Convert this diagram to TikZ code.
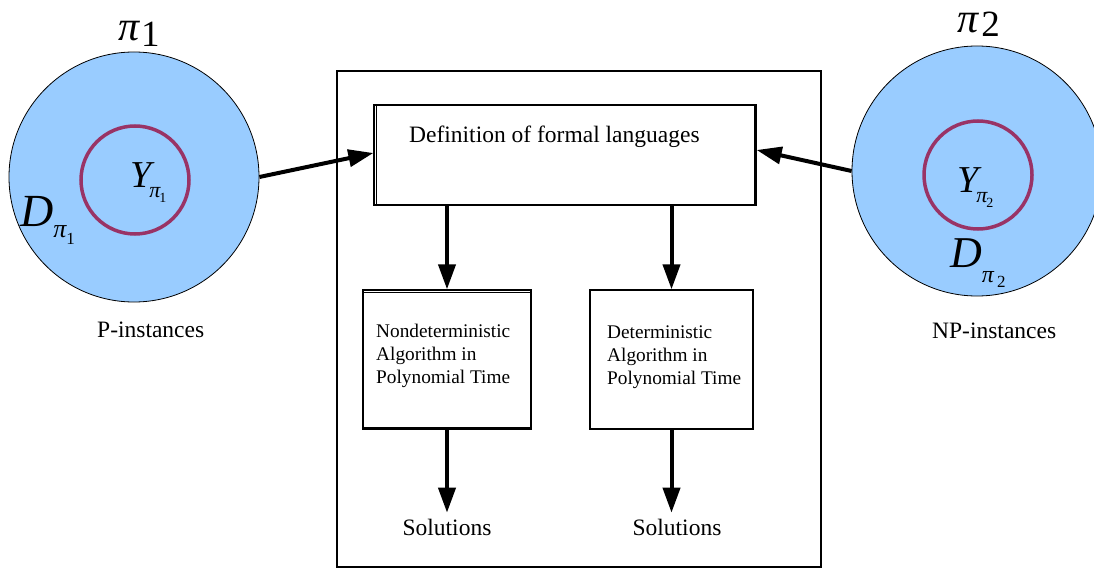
\documentclass[tikz,border=0pt]{standalone}
\usepackage{fontspec}
\setmainfont{Liberation Serif}
\usetikzlibrary{arrows.meta}
\definecolor{fillblue}{RGB}{153,204,255}
\definecolor{ringpurple}{RGB}{153,51,102}
\begin{document}
\begin{tikzpicture}[x=1pt,y=-1pt,
  setcircle/.style={circle,draw=black,line width=0.8pt,fill=fillblue,minimum size=250pt,inner sep=0pt},
  ring/.style={circle,draw=ringpurple,line width=3.5pt,minimum size=108pt,inner sep=0pt},
  box/.style={draw,line width=1.3pt,inner sep=0pt},
  thinline/.style={line width=0.7pt},
  bigarrow/.style={line width=4pt,-{Triangle[length=25pt,width=17pt]}},
  txt/.style={font=\fontsize{23.5}{28}\selectfont,inner sep=0pt},
  small/.style={font=\fontsize{19.3}{23}\selectfont,inner sep=0pt,align=left}]
\useasboundingbox (0,0) rectangle (1094,569);
\clip (0,0) rectangle (1094,569);
\fill[white] (0,0) rectangle (1094,569);

% outer frame
\node[box,line width=1.5pt,minimum width=484pt,minimum height=496pt] (outer) at (579,319) {};

% left set
\node[setcircle] (lc) at (134,177) {};
\node[ring] (lring) at (135,180) {};
\node[anchor=base west,inner sep=0pt] (pi1) at (118,41)
  {{\fontsize{42}{42}\selectfont\itshape π}\kern2pt\raisebox{-6pt}{\fontsize{37}{37}\selectfont 1}};
\node[anchor=base west,inner sep=0pt] (y1) at (130,188)
  {{\fontsize{38}{38}\selectfont\itshape Y}\kern-2pt\raisebox{-10pt}{\fontsize{22}{22}\selectfont\itshape π\kern-1pt\raisebox{-5pt}{\upshape\fontsize{14}{14}\selectfont 1}}};
\node[anchor=base west,inner sep=0pt] (d1) at (20,227)
  {{\fontsize{46}{46}\selectfont\itshape D}\raisebox{-11pt}{\fontsize{26}{26}\selectfont\itshape π\raisebox{-7pt}{\upshape\fontsize{17}{17}\selectfont 1}}};
\node[txt,anchor=base west] (pinst) at (97,337) {P-instances};

% right set
\node[setcircle] (rc) at (977,171) {};
\node[ring] (rring) at (978,175) {};
\node[anchor=base west,inner sep=0pt] (pi2) at (957,33)
  {{\fontsize{42}{42}\selectfont\itshape π}\kern3pt\raisebox{-4pt}{\fontsize{37}{37}\selectfont 2}};
\node[anchor=base west,inner sep=0pt] (y2) at (957,193)
  {{\fontsize{38}{38}\selectfont\itshape Y}\kern-2pt\raisebox{-10pt}{\fontsize{22}{22}\selectfont\itshape π\kern-1pt\raisebox{-5pt}{\upshape\fontsize{14}{14}\selectfont 2}}};
\node[anchor=base west,inner sep=0pt] (d2) at (950,268)
  {{\fontsize{44}{44}\selectfont\itshape D}\raisebox{-14pt}{\fontsize{24}{24}\selectfont\itshape π\kern3pt\raisebox{-6pt}{\upshape\fontsize{17}{17}\selectfont 2}}};
\node[txt,anchor=base west] (npinst) at (932,338) {NP-instances};

% top box
\node[box,minimum width=382pt,minimum height=100pt] (defbox) at (565,155) {};
\draw[thinline] ([xshift=2.5pt]defbox.north west) -- ([xshift=2.5pt]defbox.south west);
\draw[thinline] ([xshift=-2.5pt]defbox.north east) -- ([xshift=-2.5pt]defbox.south east);
\node[txt,anchor=base west] (deftext) at (409,143) {Definition of formal languages};

% lower boxes
\node[box,minimum width=168pt,minimum height=139pt] (ndbox) at (447,359.5) {};
\draw[thinline] ([yshift=-2.5pt]ndbox.north west) -- ([yshift=-2.5pt]ndbox.north east);
\draw[thinline] ([yshift=2.5pt]ndbox.south west) -- ([yshift=2.5pt]ndbox.south east);
\node[small,anchor=base west] (ndtext) at (376,383) {Nondeterministic\\Algorithm in\\Polynomial Time};

\node[box,minimum width=163pt,minimum height=139pt] (dbox) at (671.5,359.5) {};
\node[small,anchor=base west] (dtext) at (607,384) {Deterministic\\Algorithm in\\Polynomial Time};

% solutions
\node[txt,anchor=base,outer sep=6pt] (sol1) at (447,535) {Solutions};
\node[txt,anchor=base,outer sep=6pt] (sol2) at (677,535) {Solutions};

% arrows
\draw[bigarrow] (lc.east) -- ([yshift=2pt]defbox.west);
\draw[bigarrow] (rc.west) -- ([yshift=5pt]defbox.east);
\draw[bigarrow] (defbox.south -| ndbox.north) -- (ndbox.north);
\draw[bigarrow] (defbox.south -| dbox.north) -- (dbox.north);
\draw[bigarrow] (ndbox.south) -- (ndbox.south |- sol1.north);
\draw[bigarrow] (dbox.south) -- (dbox.south |- sol2.north);
\end{tikzpicture}
\end{document}
